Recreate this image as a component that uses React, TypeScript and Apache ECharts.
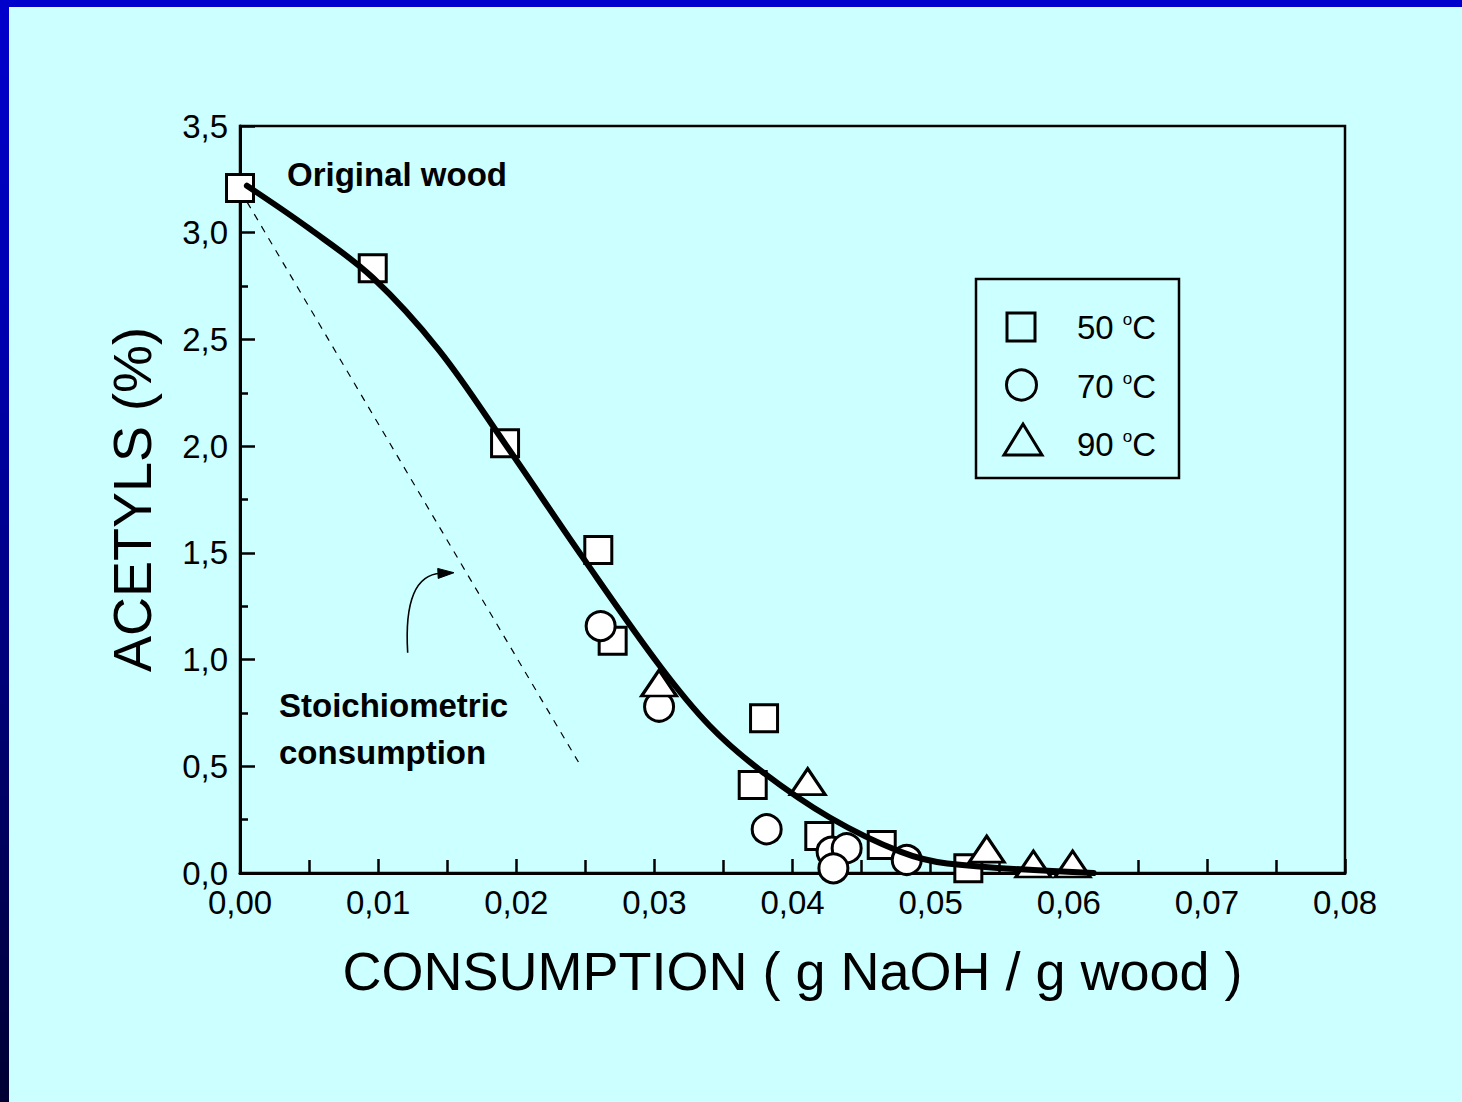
import React, { useEffect, useRef } from 'react';
import * as echarts from 'echarts';

// 50 °C (squares)
const SQ_X = [0.0, 0.00961, 0.01919, 0.02594, 0.02698, 0.03794, 0.03712, 0.04194, 0.04646, 0.05273];
const SQ_Y = [3.21, 2.833, 2.013, 1.513, 1.088, 0.725, 0.412, 0.173, 0.131, 0.022];
// 70 °C (circles)
const CI_X = [0.02611, 0.03034, 0.03813, 0.04283, 0.04392, 0.04296, 0.04827];
const CI_Y = [1.157, 0.779, 0.205, 0.1, 0.116, 0.022, 0.061];
// 90 °C (triangles)
const TR_X = [0.03034, 0.0411, 0.05406, 0.05744, 0.06028];
const TR_Y = [0.89, 0.428, 0.112, 0.042, 0.042];
// fitted curve
const CURVE_X = [0.0005, 0.005, 0.0096, 0.0144, 0.0192, 0.0248, 0.0304, 0.034, 0.0377, 0.0427, 0.0478, 0.0512, 0.0618];
const CURVE_Y = [3.22, 3.02, 2.79, 2.45, 2.01, 1.48, 0.97, 0.69, 0.48, 0.26, 0.1, 0.045, 0.0];
// stoichiometric line
const STOICH_X = [0.0, 0.0245];
const STOICH_Y = [3.2, 0.52];
// curved arrow annotation (data coords): tail, control point, tip
const ARROW_FROM = [0.01214, 1.032];
const ARROW_CTRL = [0.0118, 1.396];
const ARROW_TO = [0.01549, 1.407];

const X_TICK_LABELS = ['0,00', '0,01', '0,02', '0,03', '0,04', '0,05', '0,06', '0,07', '0,08'];
const Y_TICK_LABELS = ['0,0', '0,5', '1,0', '1,5', '2,0', '2,5', '3,0', '3,5'];
const LEGEND_NAMES = ['50', '70', '90'];

const FONT = "'Liberation Sans', Arial, Helvetica, sans-serif";

const zip = (xs: number[], ys: number[]) => xs.map((x, i) => [x, ys[i]]);

export default function App() {
  const ref = useRef<HTMLDivElement>(null);
  useEffect(() => {
    const chart = echarts.init(ref.current!, null, { renderer: 'svg', width: 1462, height: 1102 });
    const markerStyle = { color: '#ffffff', borderColor: '#000000', borderWidth: 3, opacity: 1 };
    const legendText = (n: string) => ({
      text: `{n|${n} }{s|o}{n|C}`,
      rich: {
        n: { fontSize: 33, fontFamily: FONT, fill: '#000' },
        s: { fontSize: 17, fontFamily: FONT, fill: '#000', verticalAlign: 'top', lineHeight: 17 },
      },
      verticalAlign: 'middle',
      fill: '#000',
    });
    chart.setOption({
      animation: false,
      backgroundColor: 'transparent',
      textStyle: { fontFamily: FONT },
      grid: {
        left: 240, top: 126, width: 1105, height: 747,
        show: true, borderColor: '#000', borderWidth: 2.5, backgroundColor: 'transparent',
      },
      xAxis: {
        type: 'value', min: 0, max: 0.08, interval: 0.01,
        name: 'CONSUMPTION ( g NaOH / g wood )',
        nameLocation: 'middle', nameGap: 71,
        nameTextStyle: { fontSize: 54, color: '#000', fontFamily: FONT },
        axisLine: { show: true, lineStyle: { color: '#000', width: 3 } },
        axisTick: { show: true, inside: true, length: 14, lineStyle: { color: '#000', width: 2.5 } },
        minorTick: { show: true, splitNumber: 2, length: 13, lineStyle: { color: '#000', width: 2.5 } },
        splitLine: { show: false },
        axisLabel: {
          fontSize: 33, color: '#000', margin: 13, fontFamily: FONT,
          formatter: (v: number) => X_TICK_LABELS[Math.round(v / 0.01)] ?? '',
        },
      },
      yAxis: {
        type: 'value', min: 0, max: 3.5, interval: 0.5,
        name: 'ACETYLS (%)',
        nameLocation: 'middle', nameGap: 81,
        nameTextStyle: { fontSize: 54, color: '#000', fontFamily: FONT },
        axisLine: { show: true, lineStyle: { color: '#000', width: 3 } },
        axisTick: { show: true, inside: true, length: 15, lineStyle: { color: '#000', width: 2.5 } },
        minorTick: { show: true, splitNumber: 2, length: 8, lineStyle: { color: '#000', width: 2.5 } },
        splitLine: { show: false },
        axisLabel: {
          fontSize: 33, color: '#000', margin: 12, fontFamily: FONT,
          formatter: (v: number) => Y_TICK_LABELS[Math.round(v / 0.5)] ?? '',
        },
      },
      series: [
        {
          name: 'stoich', type: 'line', z: 1, silent: true,
          data: zip(STOICH_X, STOICH_Y), symbol: 'none',
          lineStyle: { color: '#000', width: 1.2, type: [7, 7] },
        },
        {
          name: '50 °C', type: 'scatter', z: 2, symbol: 'rect', symbolSize: 27,
          itemStyle: markerStyle, data: zip(SQ_X, SQ_Y),
        },
        {
          name: '70 °C', type: 'scatter', z: 2, symbol: 'circle', symbolSize: 29,
          itemStyle: markerStyle, data: zip(CI_X, CI_Y),
        },
        {
          name: '90 °C', type: 'scatter', z: 2, symbol: 'triangle', symbolSize: [35, 26],
          itemStyle: markerStyle, data: zip(TR_X, TR_Y),
        },
        {
          name: 'fit', type: 'line', z: 3, silent: true, smooth: 0.35,
          data: zip(CURVE_X, CURVE_Y), symbol: 'none',
          lineStyle: { color: '#000', width: 6, cap: 'round', join: 'round' },
        },
      ],
      graphic: [
        {
          type: 'text', x: 287, y: 174, z: 10,
          style: { text: 'Original wood', font: `bold 33px ${FONT}`, fill: '#000', verticalAlign: 'middle' },
        },
        {
          type: 'text', x: 279, y: 705, z: 10,
          style: { text: 'Stoichiometric', font: `bold 33px ${FONT}`, fill: '#000', verticalAlign: 'middle' },
        },
        {
          type: 'text', x: 279, y: 752, z: 10,
          style: { text: 'consumption', font: `bold 33px ${FONT}`, fill: '#000', verticalAlign: 'middle' },
        },
        {
          type: 'rect', z: 10,
          shape: { x: 976, y: 279, width: 203, height: 199 },
          style: { fill: 'none', stroke: '#000', lineWidth: 2.5 },
        },
        {
          type: 'rect', z: 10,
          shape: { x: 1007, y: 313, width: 28, height: 28 },
          style: { fill: 'none', stroke: '#000', lineWidth: 3 },
        },
        {
          type: 'circle', z: 10,
          shape: { cx: 1021.5, cy: 385, r: 15 },
          style: { fill: 'none', stroke: '#000', lineWidth: 3 },
        },
        {
          type: 'polygon', z: 10,
          shape: { points: [[1023, 424], [1042, 455], [1004, 455]] },
          style: { fill: 'none', stroke: '#000', lineWidth: 3 },
        },
        { type: 'text', x: 1077, y: 327, z: 10, style: legendText(LEGEND_NAMES[0]) },
        { type: 'text', x: 1077, y: 386, z: 10, style: legendText(LEGEND_NAMES[1]) },
        { type: 'text', x: 1077, y: 444, z: 10, style: legendText(LEGEND_NAMES[2]) },
      ],
    });

    // curved arrow, positioned through the chart's own scales
    const p0 = chart.convertToPixel({ gridIndex: 0 }, ARROW_FROM) as number[];
    const pc = chart.convertToPixel({ gridIndex: 0 }, ARROW_CTRL) as number[];
    const p1 = chart.convertToPixel({ gridIndex: 0 }, ARROW_TO) as number[];
    const dx = p1[0] - pc[0];
    const dy = p1[1] - pc[1];
    const len = Math.hypot(dx, dy) || 1;
    const ux = dx / len;
    const uy = dy / len;
    const headL = 16;
    const headW = 5;
    const bx = p1[0] - ux * headL;
    const by = p1[1] - uy * headL;
    chart.setOption({
      graphic: [
        {
          id: 'arrowCurve', type: 'bezierCurve', z: 10, silent: true,
          shape: { x1: p0[0], y1: p0[1], cpx1: pc[0], cpy1: pc[1], x2: bx + ux * 3, y2: by + uy * 3 },
          style: { stroke: '#000', lineWidth: 1.6, fill: 'none' },
        },
        {
          id: 'arrowHead', type: 'polygon', z: 10, silent: true,
          shape: { points: [[p1[0], p1[1]], [bx - uy * headW, by + ux * headW], [bx + uy * headW, by - ux * headW]] },
          style: { fill: '#000', stroke: '#000', lineWidth: 1 },
        },
      ],
    });
    return () => chart.dispose();
  }, []);
  return (
    <div style={{ position: 'absolute', left: 0, top: 0, width: 1462, height: 1102, background: '#CCFFFF', overflow: 'hidden' }}>
      <div style={{ position: 'absolute', left: 0, top: 0, width: 1462, height: 7, background: '#0000CC' }} />
      <div style={{ position: 'absolute', left: 0, top: 0, width: 9, height: 1102, background: 'linear-gradient(#0000CC 0%, #0000B0 30%, #000033 100%)' }} />
      <div ref={ref} style={{ position: 'absolute', left: 0, top: 0, width: 1462, height: 1102 }} />
    </div>
  );
}
